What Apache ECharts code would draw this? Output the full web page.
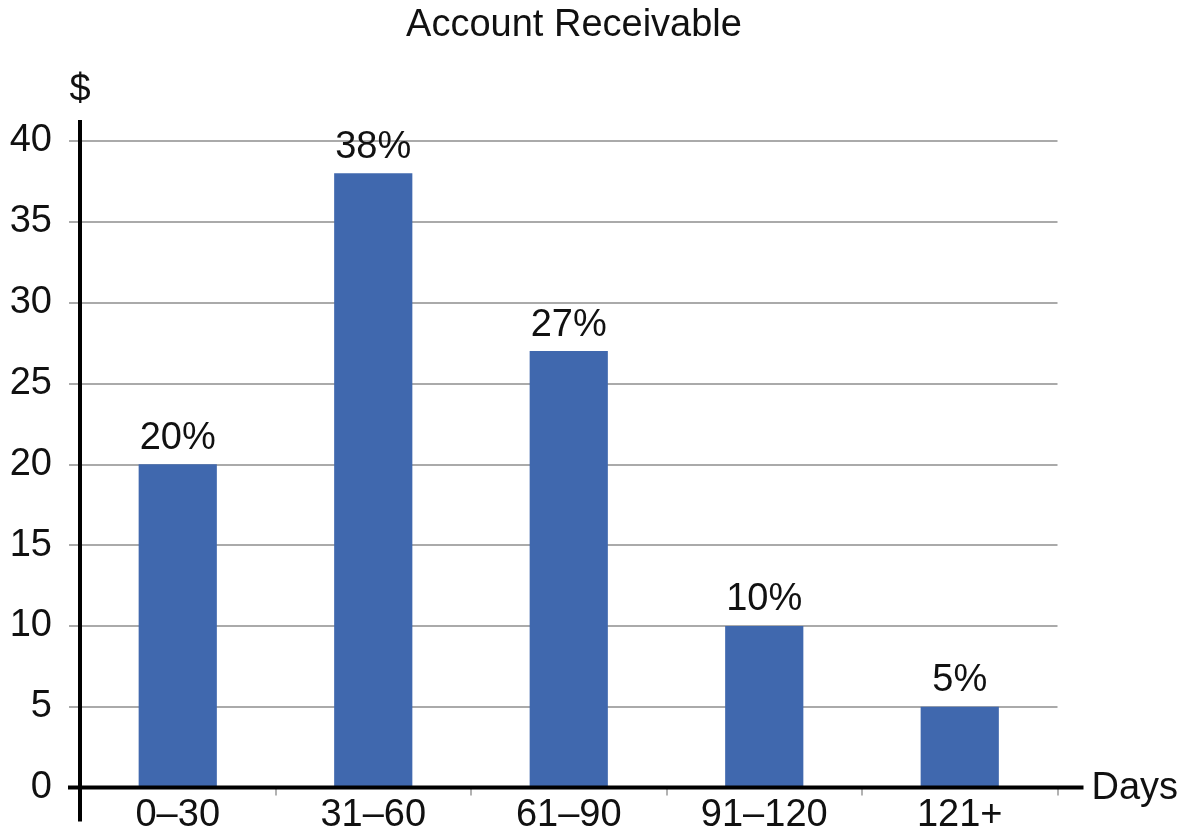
<!DOCTYPE html>
<html>
<head>
<meta charset="utf-8">
<script src="https://cdn.jsdelivr.net/npm/echarts@6/dist/echarts.min.js"></script>
<style>
  html, body { margin: 0; padding: 0; background: #fff; }
  #chart { width: 1181px; height: 835px; }
</style>
</head>
<body>
<div id="chart"></div>
<script>
// Accounts receivable aging buckets and their share of the total
const categories = ['0–30', '31–60', '61–90', '91–120', '121+'];
const values = [20, 38, 27, 10, 5];
const yTicks = [0, 5, 10, 15, 20, 25, 30, 35, 40];

const FONT = '"Liberation Sans", Arial, Helvetica, sans-serif';
const TEXT = '#111111';
const FS = 38;

const grid = { left: 80, right: 123.5, top: 141, bottom: 47.5 };

const chart = echarts.init(document.getElementById('chart'), null, { renderer: 'canvas' });

chart.setOption({
  animation: false,
  backgroundColor: '#ffffff',
  grid: grid,
  xAxis: {
    type: 'category',
    data: categories,
    axisLine: { show: false },
    axisTick: { show: true, length: 8, lineStyle: { color: '#999', width: 1.5 } },
    axisLabel: { fontFamily: FONT, fontSize: FS, color: TEXT, margin: 9 }
  },
  yAxis: {
    type: 'value',
    min: yTicks[0],
    max: yTicks[yTicks.length - 1],
    interval: 5,
    axisLine: { show: false },
    axisTick: { show: true, length: 11, lineStyle: { color: '#aaa', width: 2 } },
    axisLabel: { fontFamily: FONT, fontSize: FS, color: TEXT, margin: 28 },
    splitLine: { lineStyle: { color: '#aaa', width: 2 } }
  },
  series: [{
    type: 'bar',
    data: values,
    barWidth: '40%',
    itemStyle: { color: '#4068AE' },
    label: {
      show: true,
      position: 'top',
      distance: 7,
      formatter: p => p.value + '%',
      fontFamily: FONT,
      fontSize: FS,
      color: TEXT
    }
  }]
});

// Title, extended axis lines and the "$" / "Days" captions
const W = 1181, H = 835;
const x0 = grid.left, x1 = W - grid.right;
const y0 = H - grid.bottom, yTop = grid.top;
chart.setOption({
  graphic: [
    { type: 'text', z: 100, x: 574, y: 26,
      style: { text: 'Account Receivable', font: FS + 'px ' + FONT, fill: TEXT, textAlign: 'center', textVerticalAlign: 'middle' } },
    { type: 'line', z: 100, shape: { x1: x0, y1: yTop - 21, x2: x0, y2: y0 + 34 },
      style: { stroke: '#000', lineWidth: 4 } },
    { type: 'line', z: 100, shape: { x1: x0 - 12, y1: y0, x2: x1 + 26, y2: y0 },
      style: { stroke: '#000', lineWidth: 4 } },
    { type: 'text', z: 100, x: x0, y: yTop - 50,
      style: { text: '$', font: FS + 'px ' + FONT, fill: TEXT, textAlign: 'center', textVerticalAlign: 'middle' } },
    { type: 'text', z: 100, x: x1 + 34, y: y0 + 1,
      style: { text: 'Days', font: FS + 'px ' + FONT, fill: TEXT, textAlign: 'left', textVerticalAlign: 'middle' } }
  ]
});
</script>
</body>
</html>
